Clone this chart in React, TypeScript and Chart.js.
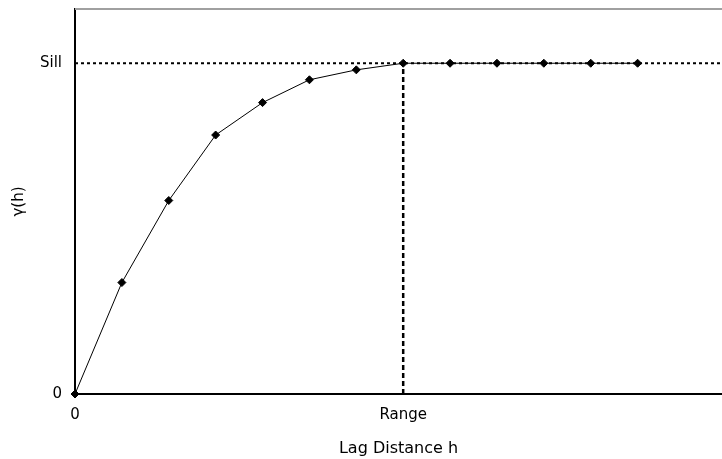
import React, { useEffect, useRef } from "react";
import { Chart, registerables } from "chart.js";

Chart.register(...registerables);

const lags: number[] = [0, 1, 2, 3, 4, 5, 6, 7, 8, 9, 10, 11, 12];
const gamma: number[] = [0, 0.337, 0.585, 0.783, 0.881, 0.95, 0.98, 1, 1, 1, 1, 1, 1];
const sillValue = 1;
const rangeValue = 7;
const xMax = 13.8;
const yMax = 1.164;
const xTickValues: number[] = [0, rangeValue];
const xTickLabels: string[] = ["0", "Range"];
const yTickValues: number[] = [0, sillValue];
const yTickLabels: string[] = ["0", "Sill"];

const FONT = "'DejaVu Sans', 'Noto Sans', sans-serif";

const topBorder = {
  id: "topBorder",
  afterDraw(chart: any) {
    const { ctx, chartArea } = chart;
    ctx.save();
    ctx.strokeStyle = "#a0a0a0";
    ctx.lineWidth = 2;
    ctx.beginPath();
    ctx.moveTo(chartArea.left, chartArea.top);
    ctx.lineTo(chartArea.right, chartArea.top);
    ctx.stroke();
    ctx.restore();
  },
};

export default function App() {
  const ref = useRef<HTMLCanvasElement | null>(null);
  useEffect(() => {
    if (!ref.current) return;
    const chart = new Chart(ref.current, {
      type: "scatter",
      data: {
        datasets: [
          {
            label: "sill",
            data: [
              { x: 0, y: sillValue },
              { x: xMax, y: sillValue },
            ],
            showLine: true,
            borderColor: "#000",
            borderWidth: 2,
            borderDash: [3, 3],
            pointRadius: 0,
            clip: false as any,
            order: 2,
          },
          {
            label: "range",
            data: [
              { x: rangeValue, y: 0 },
              { x: rangeValue, y: sillValue },
            ],
            showLine: true,
            borderColor: "#000",
            borderWidth: 2.5,
            borderDash: [5, 3],
            pointRadius: 0,
            clip: false as any,
            order: 2,
          },
          {
            label: "gamma",
            data: lags.map((h, i) => ({ x: h, y: gamma[i] })),
            showLine: true,
            borderColor: "#000",
            borderWidth: 1,
            pointStyle: "rectRot",
            pointRadius: 4,
            pointBackgroundColor: "#000",
            pointBorderColor: "#000",
            pointBorderWidth: 1,
            clip: false as any,
            order: 1,
          },
        ],
      },
      options: {
        animation: false,
        responsive: true,
        maintainAspectRatio: false,
        layout: { autoPadding: false, padding: { top: 9, right: 0, left: 0, bottom: 0 } },
        plugins: {
          legend: { display: false },
          tooltip: { enabled: false },
        },
        scales: {
          x: {
            type: "linear",
            min: 0,
            max: xMax,
            grid: { display: false, drawTicks: false },
            border: { display: true, color: "#000", width: 2 },
            afterBuildTicks: (scale: any) => {
              scale.ticks = xTickValues.map((v) => ({ value: v }));
            },
            afterFit: (scale: any) => {
              scale.height = 65;
              scale.paddingLeft = 0;
              scale.paddingRight = 0;
            },
            ticks: {
              color: "#000",
              padding: 12,
              maxRotation: 0,
              autoSkip: false,
              font: { family: FONT, size: 15 },
              callback: (v: any) => {
                const i = xTickValues.indexOf(Number(v));
                return i >= 0 ? xTickLabels[i] : "";
              },
            },
            title: {
              display: true,
              text: "Lag Distance h",
              color: "#000",
              font: { family: FONT, size: 16 },
              padding: { top: 0, bottom: 1 },
            },
          },
          y: {
            type: "linear",
            min: 0,
            max: yMax,
            grid: { display: false, drawTicks: false },
            border: { display: true, color: "#000", width: 2 },
            afterBuildTicks: (scale: any) => {
              scale.ticks = yTickValues.map((v) => ({ value: v }));
            },
            afterFit: (scale: any) => {
              scale.width = 75;
              scale.paddingTop = 0;
              scale.paddingBottom = 0;
            },
            ticks: {
              color: "#000",
              padding: 13,
              autoSkip: false,
              font: { family: FONT, size: 15 },
              callback: (v: any) => {
                const i = yTickValues.indexOf(Number(v));
                return i >= 0 ? yTickLabels[i] : "";
              },
            },
            title: {
              display: true,
              text: "γ(h)",
              color: "#000",
              font: { family: FONT, size: 15 },
              padding: { top: 10, bottom: 0 },
            },
          },
        },
      },
      plugins: [topBorder],
    });
    return () => chart.destroy();
  }, []);
  return (
    <div style={{ position: "absolute", left: 0, top: 0, width: 722, height: 459, background: "#fff" }}>
      <canvas ref={ref} />
    </div>
  );
}
